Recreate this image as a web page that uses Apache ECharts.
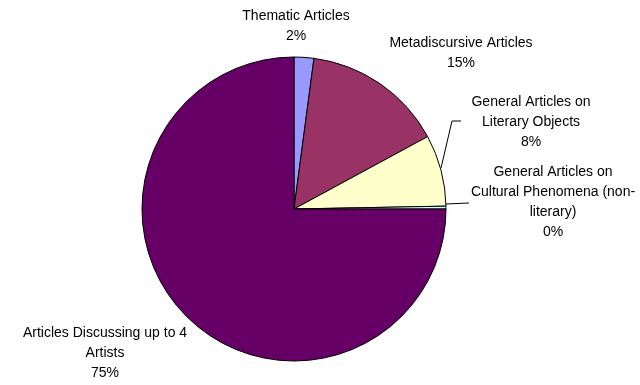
<!DOCTYPE html>
<html><head><meta charset="utf-8">
<script src="https://cdn.jsdelivr.net/npm/echarts@6/dist/echarts.min.js"></script>
<style>html,body{margin:0;padding:0;background:#fff}#c{width:640px;height:385px}</style>
</head><body><div id="c"></div>
<script>
var categories = ["Thematic Articles", "Metadiscursive Articles", "General Articles on\nLiterary Objects", "General Articles on\nCultural Phenomena (non-\nliterary)", "Articles Discussing up to 4\nArtists"];
var values = [2.1, 15.0, 7.6, 0.3, 75.0];
var percentLabels = ["2%", "15%", "8%", "0%", "75%"];

var sliceColors = ["#9999FF", "#993366", "#FFFFCC", "#CCFFFF", "#660066"];
var labelPos = [[296, 26], [461, 53], [531, 122], [553, 202], [105, 353]];
var linePts = [null, null, [[441,168],[452,121],[461,121]], [[446,204],[469,203]], null];

var chart = echarts.init(document.getElementById('c'), null, {renderer: 'canvas'});
chart.setOption({
  animation: false,
  backgroundColor: '#fff',
  series: [{
    type: 'pie',
    center: [294, 209],
    radius: 152,
    startAngle: 90,
    clockwise: true,
    avoidLabelOverlap: false,
    itemStyle: {borderColor: '#000', borderWidth: 1},
    label: {
      show: true, position: 'outside', color: '#000',
      fontFamily: 'Liberation Sans, Arial, sans-serif', fontSize: 14,
      lineHeight: 20, align: 'center',
      formatter: function (p) { return categories[p.dataIndex] + '\n' + percentLabels[p.dataIndex]; }
    },
    labelLine: {show: true, lineStyle: {color: '#000', width: 1}, length: 5, length2: 5},
    labelLayout: function (p) {
      var i = p.dataIndex;
      var r = {x: labelPos[i][0], y: labelPos[i][1], align: 'center', verticalAlign: 'middle'};
      if (linePts[i]) r.labelLinePoints = linePts[i];
      return r;
    },
    data: values.map(function (v, i) {
      return {
        name: categories[i], value: v,
        itemStyle: {color: sliceColors[i]},
        labelLine: {show: !!linePts[i]}
      };
    })
  }]
});
</script></body></html>
